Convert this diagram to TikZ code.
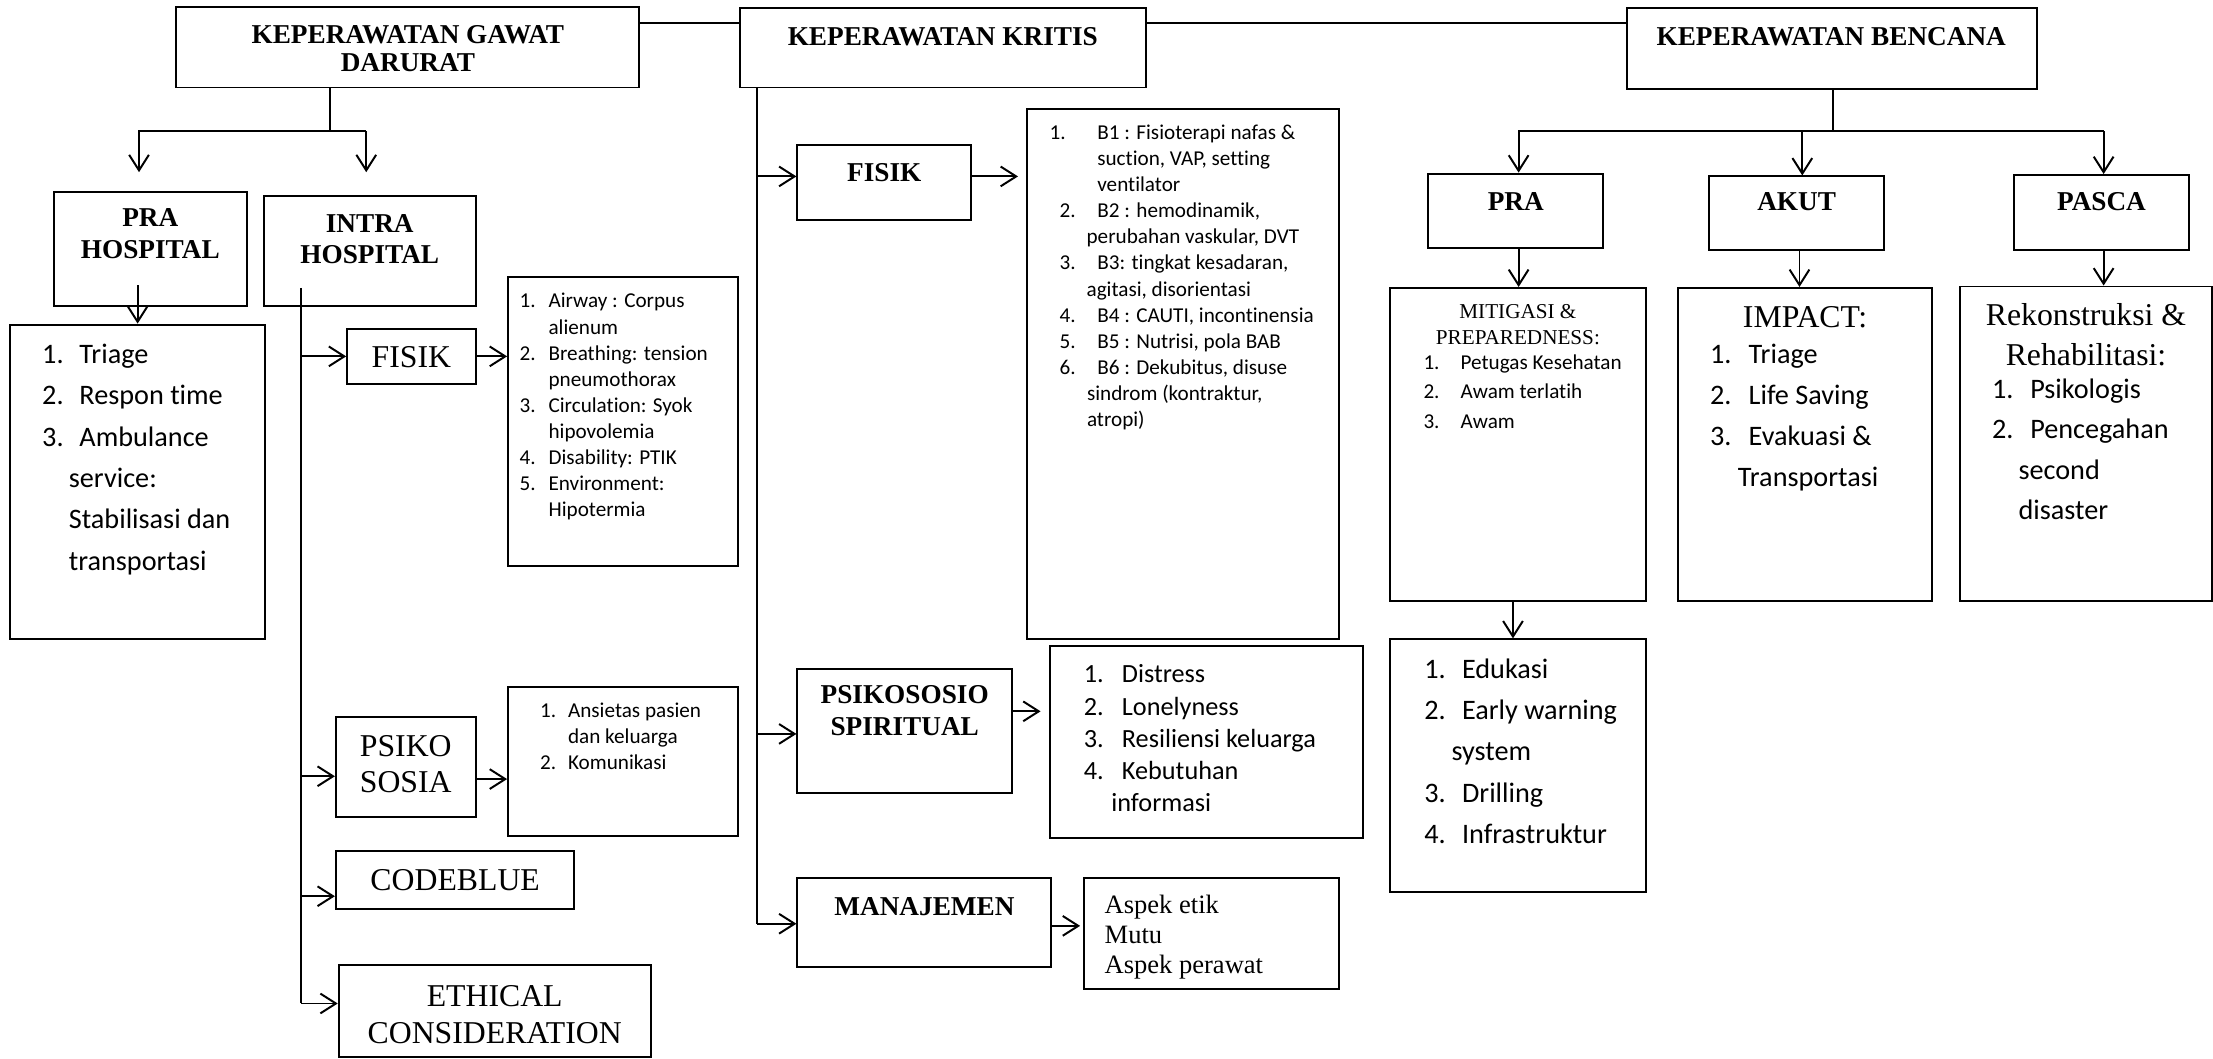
\documentclass[tikz,border=0pt]{standalone}
\usepackage{fontspec}
\setmainfont{Liberation Serif}
\newfontfamily\calib[Ligatures={NoCommon}]{Carlito}
\usetikzlibrary{arrows.meta}
\newcounter{tn}
\newcommand\mkbox[5]{\node[mybox,minimum width={#4-#2},minimum height={#5-#3}] (#1) at ({(#2+#4)/2},{(#3+#5)/2}) {};}
\newcommand\mkli[5]{\stepcounter{tn}\node[ltx] (n\arabic{tn}) at (#1,#3) {#4};\stepcounter{tn}\node[ltx] (n\arabic{tn}) at (#2,#3) {#5};}
\newcommand\mkcont[3]{\stepcounter{tn}\node[ltx] (n\arabic{tn}) at (#1,#2) {#3};}
\newcommand\mkctr[3]{\stepcounter{tn}\node[ctx] (n\arabic{tn}) at (#1,#2) {#3};}
\begin{document}
\begin{tikzpicture}[x=1pt,y=-1pt,line width=1.4pt,
  >={Straight Barb[length=11pt,width=14pt]},
  mybox/.style={draw,rectangle,inner sep=0pt,line width=1.4pt},
  ltx/.style={anchor=base west,inner sep=0pt},
  ctx/.style={anchor=base,inner sep=0pt}]
\useasboundingbox (0,0) rectangle (1568,750);

% boxes
\mkbox{gd}{125}{5}{453}{62}
\mkbox{kr}{524}{6}{812}{62}
\mkbox{bc}{1153}{6}{1443}{63}
\mkbox{prah}{38}{136}{175}{217}
\mkbox{intra}{187}{139}{337}{217}
\mkbox{tri}{7}{230}{188}{453}
\mkbox{fis}{246}{233}{337}{272}
\mkbox{abc}{360}{196}{523}{401}
\mkbox{psi}{238}{508}{337}{579}
\mkbox{ans}{360}{487}{523}{592}
\mkbox{code}{238}{603}{407}{644}
\mkbox{eth}{240}{684}{461}{749}
\mkbox{fk}{565}{103}{688}{156}
\mkbox{bl}{728}{77}{949}{453}
\mkbox{pss}{565}{474}{717}{562}
\mkbox{dis}{744}{458}{966}{594}
\mkbox{man}{565}{622}{745}{685}
\mkbox{asp}{768}{622}{949}{701}
\mkbox{pra}{1012}{123}{1136}{176}
\mkbox{akut}{1211}{125}{1335}{177}
\mkbox{pasca}{1427}{124}{1551}{177}
\mkbox{mit}{985}{204}{1166}{426}
\mkbox{imp}{1189}{204}{1369}{426}
\mkbox{rek}{1389}{203}{1567}{426}
\mkbox{edu}{985}{453}{1166}{632}

% top connectors
\coordinate (h16) at (0,16);
\draw (gd.east |- h16) -- (kr.west |- h16);
\draw (kr.east |- h16) -- (bc.west |- h16);

% gawat darurat branch
\coordinate (gdj) at (233.5,93);
\coordinate (gdl) at (98.5,93);
\coordinate (gdr) at (259.5,93);
\coordinate (gdlt) at (98.5,122);
\coordinate (gdrt) at (259.5,122);
\draw (gd.south -| gdj) -- (gdj);
\draw[->] (gdr) -- (gdl) -- (gdlt);
\draw[->] (gdr) -- (gdrt);
\coordinate (ph) at (97.5,202);
\draw[->] (ph) -- (tri.north -| ph);

% intra hospital branch
\coordinate (ivt) at (213.6,204);
\coordinate (ivb) at (213.6,711);
\draw (ivt) -- (ivb);
\draw[->] (ivt |- fis.west) -- (fis.west);
\coordinate (a550) at (213.6,550);
\draw[->] (a550) -- (psi.west |- a550);
\coordinate (a635) at (213.6,635);
\draw[->] (a635) -- (code.west |- a635);
\draw[->] (ivb) -- (eth.west |- ivb);
\draw[->] (fis.east) -- (abc.west |- fis.east);
\coordinate (a552) at (0,552);
\draw[->] (psi.east |- a552) -- (ans.west |- a552);

% kritis branch
\coordinate (kvb) at (536.3,654.5);
\draw (kr.south -| kvb) -- (kvb);
\coordinate (k125) at (0,125);
\draw[->] (kvb |- k125) -- (fk.west |- k125);
\coordinate (k520) at (0,520);
\draw[->] (kvb |- k520) -- (pss.west |- k520);
\draw[->] (kvb) -- (man.west |- kvb);
\draw[->,shorten >=6pt] (fk.east |- k125) -- (bl.west |- k125);
\coordinate (k504) at (0,504);
\draw[->,shorten >=6pt] (pss.east |- k504) -- (dis.west |- k504);
\coordinate (k656) at (0,656);
\draw[->,shorten >=2pt] (man.east |- k656) -- (asp.west |- k656);

% bencana branch
\coordinate (bj) at (1298.5,93);
\coordinate (bl1) at (1076,93);
\coordinate (bm1) at (1277,93);
\coordinate (br1) at (1490.5,93);
\draw (bc.south -| bj) -- (bj);
\draw[->] (br1) -- (bl1) -- (pra.north -| bl1);
\draw[->] (bm1) -- (akut.north -| bm1);
\draw[->] (br1) -- (pasca.north -| br1);
\draw[->] (pra.south -| bl1) -- (mit.north -| bl1);
\coordinate (bm2) at (1275,0);
\draw[->] (akut.south -| bm2) -- (imp.north -| bm2);
\draw[->] (pasca.south -| br1) -- (rek.north -| br1);
\coordinate (mx) at (1072,0);
\draw[->] (mit.south -| mx) -- (edu.north -| mx);

% bold titles
\begin{scope}[font=\bfseries\fontsize{19.3}{23}\selectfont]
\mkctr{289}{31}{KEPERAWATAN GAWAT}
\mkctr{289}{51}{DARURAT}
\mkctr{668}{32}{KEPERAWATAN KRITIS}
\mkctr{1297.5}{32}{KEPERAWATAN BENCANA}
\mkctr{1074}{149}{PRA}
\mkctr{1273}{149}{AKUT}
\mkctr{1489}{149}{PASCA}
\mkctr{106.5}{160.6}{PRA}
\mkctr{106.5}{183.2}{HOSPITAL}
\mkctr{262}{164.8}{INTRA}
\mkctr{262}{186.8}{HOSPITAL}
\mkctr{626.5}{128.9}{FISIK}
\mkctr{641}{498.5}{PSIKOSOSIO}
\mkctr{641}{521}{SPIRITUAL}
\mkctr{655}{648.5}{MANAJEMEN}
\end{scope}

% regular serif labels
\begin{scope}[font=\fontsize{22.5}{27}\selectfont]
\mkctr{291.5}{260.7}{FISIK}
\mkctr{287.5}{535.8}{PSIKO}
\mkctr{287.5}{561.8}{SOSIA}
\mkctr{322.5}{631}{CODEBLUE}
\mkctr{350.5}{713}{ETHICAL}
\mkctr{350.5}{739}{CONSIDERATION}
\mkctr{1279}{231.8}{IMPACT:}
\mkctr{1478}{230.6}{Rekonstruksi \&}
\mkctr{1478}{258.9}{Rehabilitasi:}
\end{scope}
\begin{scope}[font=\fontsize{15}{18}\selectfont]
\mkctr{1075.5}{225.8}{MITIGASI \&}
\mkctr{1075.5}{244}{PREPAREDNESS:}
\end{scope}
\begin{scope}[font=\fontsize{18.8}{22}\selectfont]
\mkcont{782}{647}{Aspek etik}
\mkcont{782}{668.5}{Mutu}
\mkcont{782}{690}{Aspek perawat}
\end{scope}

% Calibri-like lists, 20
\begin{scope}[font=\calib\fontsize{20}{24}\selectfont]
\mkli{29.2}{55.6}{257.5}{1.}{Triage}
\mkli{29.2}{55.6}{286.8}{2.}{Respon time}
\mkli{29.2}{55.6}{316.1}{3.}{Ambulance}
\mkcont{48.1}{345.4}{service:}
\mkcont{48.1}{374.7}{Stabilisasi dan}
\mkcont{48.1}{404}{transportasi}
\mkli{1211}{1238.3}{257.5}{1.}{Triage}
\mkli{1211}{1238.3}{286.6}{2.}{Life Saving}
\mkli{1211}{1238.3}{315.7}{3.}{Evakuasi \&}
\mkcont{1230.7}{344.8}{Transportasi}
\mkli{1410.7}{1437.8}{282.3}{1.}{Psikologis}
\mkli{1410.7}{1437.8}{311}{2.}{Pencegahan}
\mkcont{1429.5}{339.7}{second}
\mkcont{1429.5}{368.4}{disaster}
\mkli{1008.5}{1035.2}{480.7}{1.}{Edukasi}
\mkli{1008.5}{1035.2}{509.9}{2.}{Early warning}
\mkcont{1027.8}{539.1}{system}
\mkli{1008.5}{1035.2}{568.3}{3.}{Drilling}
\mkli{1008.5}{1035.2}{597.5}{4.}{Infrastruktur}
\end{scope}

\begin{scope}[font=\calib\fontsize{18.6}{22}\selectfont]
\mkli{767.3}{794.2}{483.9}{1.}{Distress}
\mkli{767.3}{794.2}{506.75}{2.}{Lonelyness}
\mkli{767.3}{794.2}{529.6}{3.}{Resiliensi keluarga}
\mkli{767.3}{794.2}{552.45}{4.}{Kebutuhan}
\mkcont{786.7}{575.3}{informasi}
\end{scope}

% Calibri-like lists, 15
\begin{scope}[font=\calib\fontsize{15}{18}\selectfont]
\mkli{367.5}{388}{218.2}{1.}{Airway : Corpus}
\mkcont{388}{236.7}{alienum}
\mkli{367.5}{388}{255.1}{2.}{Breathing: tension}
\mkcont{388}{273.6}{pneumothorax}
\mkli{367.5}{388}{292}{3.}{Circulation: Syok}
\mkcont{388}{310.5}{hipovolemia}
\mkli{367.5}{388}{328.9}{4.}{Disability: PTIK}
\mkli{367.5}{388}{347.4}{5.}{Environment:}
\mkcont{388}{365.8}{Hipotermia}
\mkli{382}{401.8}{508.7}{1.}{Ansietas pasien}
\mkcont{401.8}{527}{dan keluarga}
\mkli{382}{401.8}{545.3}{2.}{Komunikasi}
\mkli{743}{776.8}{99}{1.}{B1 : Fisioterapi nafas \&}
\mkcont{776.8}{117.46}{suction, VAP, setting}
\mkcont{776.8}{135.92}{ventilator}
\mkli{750}{776.8}{154.38}{2.}{B2 : hemodinamik,}
\mkcont{769.2}{172.84}{perubahan vaskular, DVT}
\mkli{750}{776.8}{191.3}{3.}{B3: tingkat kesadaran,}
\mkcont{769.2}{209.76}{agitasi, disorientasi}
\mkli{750}{776.8}{228.22}{4.}{B4 : CAUTI, incontinensia}
\mkli{750}{776.8}{246.68}{5.}{B5 : Nutrisi, pola BAB}
\mkli{750}{776.8}{265.14}{6.}{B6 : Dekubitus, disuse}
\mkcont{769.5}{283.6}{sindrom (kontraktur,}
\mkcont{769.5}{302.06}{atropi)}
\mkli{1007.9}{1034.2}{261.5}{1.}{Petugas Kesehatan}
\mkli{1007.9}{1034.2}{282.4}{2.}{Awam terlatih}
\mkli{1007.9}{1034.2}{303.3}{3.}{Awam}
\end{scope}
\end{tikzpicture}
\end{document}
